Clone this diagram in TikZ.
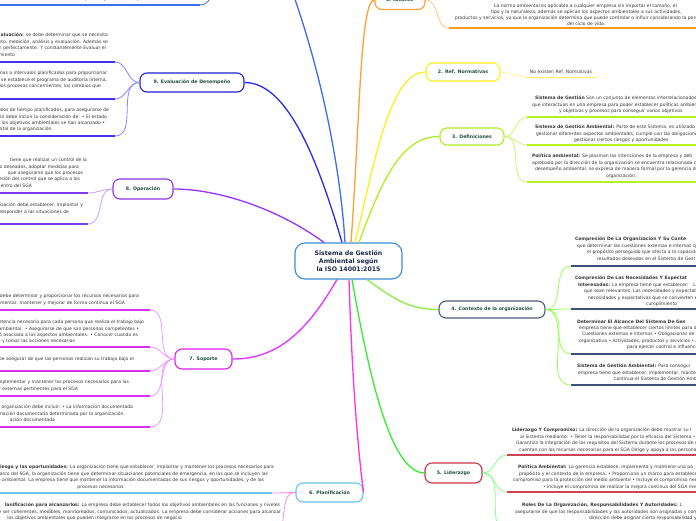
\documentclass[tikz,border=0pt]{standalone}
\usepackage{fontspec}
\setmainfont{DejaVu Sans}
\newcommand\mmbody{\fontsize{4.55}{6.4}\selectfont}
\newcommand\mmdense{\fontsize{4.55}{5.8}\selectfont}
\newcommand\mmlbl{\fontsize{4.7}{6}\selectfont\bfseries}
\newcommand\mmmain{\fontsize{6.2}{7.6}\selectfont\bfseries}
\newcommand\rpad[1]{\hspace*{#1}\hbox{}}
\definecolor{txt}{HTML}{383838}
\definecolor{lbl}{HTML}{1F4E3D}
\definecolor{cMain}{HTML}{3A8FD5}
\definecolor{cMainTxt}{HTML}{1B2A47}
\definecolor{oN}{HTML}{FFA030}\definecolor{oU}{HTML}{FF9A1A}\definecolor{oC}{HTML}{FFC680}
\definecolor{yN}{HTML}{FFEE22}\definecolor{yU}{HTML}{FFEE55}\definecolor{yC}{HTML}{FFF39A}
\definecolor{gN}{HTML}{B0EE22}\definecolor{gU}{HTML}{B6F01E}\definecolor{gC}{HTML}{CCF577}
\definecolor{nN}{HTML}{4B5B7C}\definecolor{nU}{HTML}{3F5078}\definecolor{nC}{HTML}{99FF55}\definecolor{nM}{HTML}{8AEE4A}
\definecolor{rN}{HTML}{CC3344}\definecolor{rU}{HTML}{CC4455}\definecolor{rC}{HTML}{88FF88}\definecolor{rM}{HTML}{33EE33}
\definecolor{sN}{HTML}{66C3F0}\definecolor{sU}{HTML}{6CC3EF}\definecolor{sC}{HTML}{FF88EE}\definecolor{sM}{HTML}{FF33DD}
\definecolor{mN}{HTML}{DD22EE}\definecolor{mU}{HTML}{D633F0}\definecolor{mC}{HTML}{EE99FF}\definecolor{mM}{HTML}{DD33FF}
\definecolor{vN}{HTML}{8833EE}\definecolor{vU}{HTML}{7A3DF5}\definecolor{vC}{HTML}{C9A0FF}\definecolor{vM}{HTML}{9933FF}
\definecolor{bN}{HTML}{2020DD}\definecolor{bU}{HTML}{4433EE}\definecolor{bC}{HTML}{8888FF}\definecolor{bM}{HTML}{2A2AE8}
\definecolor{tN}{HTML}{3D6EF0}
\begin{document}
\begin{tikzpicture}[x=1pt,y=-1pt,
  branch/.style={draw, rounded corners=7pt, fill=white, line width=1.1pt, font=\mmlbl, text=lbl, align=center, inner sep=0pt},
  mainbox/.style={draw=cMain, rounded corners=10pt, fill=white, line width=1.1pt, font=\mmmain, text=cMainTxt, align=center, minimum width=107pt, minimum height=36pt, inner sep=0pt},
  body/.style={font=\mmbody, text=txt, inner sep=0pt, outer sep=0pt},
  rcut/.style={body, anchor=north west, align=left},
  lcut/.style={body, anchor=north east, align=right},
  con/.style={line width=1.3pt},
  sub/.style={line width=0.8pt},
  uline/.style={line width=1.8pt}]
\useasboundingbox (0,0) rectangle (696,520);
\clip (0,0) rectangle (696,520);
\fill[white] (0,0) rectangle (696,520);

% ---------- main and branch nodes ----------
\node[mainbox] (c) at (348.5,261) {Sistema de Gestión\\Ambiental según\\la ISO 14001:2015};
\node[branch, draw=oN, minimum width=50pt, minimum height=19pt] (b1) at (400,0) {1. Alcance};
\node[branch, draw=yN, minimum width=74pt, minimum height=18pt] (b2) at (463,72) {2. Ref. Normativas};
\node[branch, draw=gN, minimum width=64pt, minimum height=17pt] (b3) at (472,136.5) {3. Definiciones};
\node[branch, draw=nN, minimum width=106pt, minimum height=17pt] (b4) at (492,309.5) {4. Contexto de la organización};
\node[branch, draw=rN, minimum width=57pt, minimum height=20pt] (b5) at (453.5,473) {5. Liderazgo};
\node[branch, draw=sN, minimum width=67pt, minimum height=19pt] (b6) at (329.5,492.5) {6. Planificación};
\node[branch, draw=mN, minimum width=57pt, minimum height=20pt] (b7) at (203.5,359) {7. Soporte};
\node[branch, draw=vN, minimum width=60pt, minimum height=20pt] (b8) at (143,189) {8. Operación};
\node[branch, draw=bN, minimum width=104pt, minimum height=19pt] (b9) at (192,82.5) {9. Evaluación de Desempeño};
\coordinate (b10) at (288,-20);
\coordinate (n10) at (225,-14);

% ---------- main connectors ----------
\draw[con, tN] ([xshift=-3.5pt]c.north) .. controls (340,160) and (318,60) .. (b10);
\draw[con, bM] ([xshift=-6.5pt]c.north) .. controls (315,150) and (285,82.5) .. (b9.east);
\draw[con, vM] ([xshift=-24.5pt]c.north) .. controls (280,210) and (220,189) .. (b8.east);
\draw[con, oN] ([xshift=2.5pt]c.north) .. controls (360,120) and (360,0) .. (b1.west);
\draw[con, yN] ([xshift=6.5pt]c.north) .. controls (375,160) and (390,72) .. (b2.west);
\draw[con, gN] ([xshift=10.5pt]c.north) .. controls (385,170) and (405,136.5) .. (b3.west);
\draw[con, nM] ([xshift=18.5pt]c.south) .. controls (395,300) and (410,309.5) .. (b4.west);
\draw[con, rM] ([xshift=3.5pt]c.south) .. controls (368,370) and (390,473) .. (b5.west);
\draw[con, sM] ([xshift=0.5pt]c.south) .. controls (352,380) and (358,450) .. (b6.east);
\draw[con, mM] ([xshift=-11.5pt]c.south) .. controls (305,335) and (275,359) .. (b7.east);

% ---------- underline anchor points ----------
\coordinate (u1) at (449,28);
\coordinate (u2) at (526,77);
\coordinate (u3a) at (527,117); \coordinate (u3b) at (527,145); \coordinate (u3c) at (527,182);
\coordinate (u4a) at (571,266); \coordinate (u4b) at (571,309); \coordinate (u4c) at (571,354); \coordinate (u4d) at (571,385);
\coordinate (u5a) at (507,455); \coordinate (u5b) at (507,492); \coordinate (u5c) at (508,532);
\coordinate (u6a) at (272,493); \coordinate (u6b) at (272,534);
\coordinate (u7a) at (150,310); \coordinate (u7b) at (150,347); \coordinate (u7c) at (150,371); \coordinate (u7d) at (150,396); \coordinate (u7e) at (150,427);
\coordinate (u8a) at (88,193); \coordinate (u8b) at (88,224);
\coordinate (u9a) at (115,62); \coordinate (u9b) at (115,99); \coordinate (u9c) at (115,136);
\coordinate (u10) at (200,5);

% ---------- child connectors ----------
\draw[sub, oC] (b1.east) to[out=0,in=180] (u1);
\draw[sub, yC] (b2.east) to[out=0,in=180] (u2);
\foreach \u in {u3a,u3b,u3c} \draw[sub, gC] (b3.east) to[out=0,in=180] (\u);
\foreach \u in {u4a,u4b,u4c,u4d} \draw[sub, nC] (b4.east) to[out=0,in=180] (\u);
\foreach \u in {u5a,u5b,u5c} \draw[sub, rC] (b5.east) to[out=0,in=180] (\u);
\foreach \u in {u6a,u6b} \draw[sub, sC] (b6.west) to[out=180,in=0] (\u);
\foreach \u in {u7a,u7b,u7c,u7d,u7e} \draw[sub, mC] (b7.west) to[out=180,in=0] (\u);
\foreach \u in {u8a,u8b} \draw[sub, vC] (b8.west) to[out=180,in=0] (\u);
\foreach \u in {u9a,u9b,u9c} \draw[sub, bC] (b9.west) to[out=180,in=0] (\u);
\draw[sub, tN] (n10) to[out=180,in=0] (u10);

% ---------- underlines ----------
\draw[line width=1.5pt, oU] (u1) -- (700,28);
\draw[line width=0.8pt, yU] (u2) -- (596,77);
\foreach \u in {u3a,u3b,u3c} \draw[uline, gU] (\u) -- ++(180,0);
\foreach \u in {u4a,u4b,u4c,u4d} \draw[uline, nU] (\u) -- ++(140,0);
\foreach \u in {u5a,u5b} \draw[uline, rU] (\u) -- ++(200,0);
\draw[uline, sU] (u6a) -- ++(-280,0);
\foreach \u in {u7a,u7b,u7c,u7d,u7e} \draw[uline, mU] (\u) -- ++(-160,0);
\foreach \u in {u8a,u8b} \draw[uline, vU] (\u) -- ++(-100,0);
\foreach \u in {u9a,u9b,u9c} \draw[uline, bU] (\u) -- ++(-120,0);
\draw[uline, tN] (u10) -- ++(-210,0);

% ---------- texts: right side ----------
\node[rcut, font=\mmdense] (t1) at (455,4.2) {\rpad{39pt}La norma ambiental es aplicable a cualquier empresa sin importar el tamaño, el\\
\rpad{36pt}tipo y la naturaleza, además se aplican los aspectos ambientales a sus actividades,\\
productos y servicios, ya que la organización determina que puede controlar o influir considerando la pers\\
\rpad{112pt}del ciclo de vida.};
\node[body] (t2) at (561,72) {No existen Ref. Normativas};
\node[rcut] (t3a) at (532,96.2) {\rpad{3pt}\textbf{Sistema de Gestión} Son un conjunto de elementos interrelacionados\\
que interactúan en una empresa para poder establecer políticas ambient\\
\rpad{27pt}y objetivos y procesos para conseguir varios objetivos};
\node[rcut] (t3b) at (535,125.2) {\textbf{Sistema de Gestión Ambiental:} Parte de este Sistema, es utilizado p\\
\rpad{1pt}gestionar diferentes aspectos ambientales, cumple con las obligaciones\\
\rpad{39pt}gestionar ciertos riesgos y oportunidades};
\node[rcut] (t3c) at (532,154.2) {\textbf{Política ambiental:} Se plasman las intenciones de la empresa y deb\\
aprobada por la dirección de la organización se encuentra relacionada c\\
\rpad{3pt}desempeño ambiental, se expresa de manera formal por la gerencia de\\
\rpad{74pt}organización.};
\node[rcut] (t4a) at (575,237.2) {\textbf{Compresión De La Organización Y Su Conte}\\
\rpad{2pt}que determinar las cuestiones externas e internas q\\
\rpad{12pt}el propósito perseguido que afecta a la capacidad\\
\rpad{22pt}resultados deseados en el Sistema de Gest};
\node[rcut] (t4b) at (575,276.2) {\textbf{Compresión De Las Necesidades Y Expectat}\\
\rpad{3pt}\textbf{Interesadas:} La empresa tiene que establecer: \ \ L\\
\rpad{9pt}que sean relevantes, Las necesidades y expectati\\
\rpad{13pt}necesidades y expectativas que se convierten e\\
\rpad{71pt}cumplimiento};
\node[rcut] (t4c) at (577,319.7) {\textbf{Determinar El Alcance Del Sistema De Ges}\\
\rpad{2pt}empresa tiene que establecer ciertos límites para de\\
\rpad{5pt}Cuestiones externas e internas • Obligaciones de c\\
\rpad{2pt}organizativa • Actividades, productos y servicios • A\\
\rpad{50pt}para ejercer control e influenci};
\node[rcut] (t4d) at (577,364.2) {\textbf{Sistema de Gestión Ambiental:} Para consegui\\
\rpad{1pt}empresa tiene que establecer, implementar, manten\\
\rpad{37pt}continua el Sistema de Gestión Amb};
\node[rcut] (t5a) at (512,428.2) {\textbf{Liderazgo Y Compromiso:} La dirección de la organización debe mostrar su l\\
\rpad{8pt}al Sistema mediante: • Tener la responsabilidad por la eficacia del Sistema •\\
\rpad{4pt}Garantiza la integración de los requisitos del Sistema durante los procesos de n\\
\rpad{7pt}cuentan con los recursos necesarios para el SGA Dirige y apoya a las personas};
\node[rcut] (t5b) at (513,465.2) {\rpad{5pt}\textbf{Política Ambiental:} La gerencia establece, implementa y mantiene una po\\
\rpad{6pt}propósito y el contexto de la empresa, • Proporciona un marco para establece\\
compromiso para la protección del medio ambiente • Incluye el compromiso nec\\
\rpad{30pt}• Incluye el compromiso de realizar la mejora continua del SGA mej};
\node[rcut] (t5c) at (515,503.2) {\rpad{7pt}\textbf{Roles De La Organización, Responsabilidades Y Autoridades:} L\\
asegurarse de que las responsabilidades y las autoridades son asignadas y com\\
\rpad{74pt}dirección debe asignar cierta responsabilidad y};

% ---------- texts: left side ----------
\node[lcut] (t6a) at (274,465.2) {\textbf{iesgo y las oportunidades:} La organización tiene que establecer, implantar y mantener los procesos necesarios para\\
l marco del SGA, la organización tiene que determinar situaciones potenciales de emergencia, en las que se incluyen las\rpad{6pt}\\
cto ambiental. La empresa tiene que mantener la información documentadas de sus riesgos y oportunidades, y de los\rpad{10pt}\\
procesos necesarios.\rpad{149pt}};
\node[lcut] (t6b) at (281,503.2) {\textbf{lanificación para alcanzarlos:} La empresa debe establecer todos los objetivos ambientales en las funciones y niveles\rpad{1pt}\\
e ser coherentes, medibles, monitoreados, comunicados, actualizados. La empresa debe considerar acciones para alcanzar\\
los objetivos ambientales que pueden integrarse en los procesos de negocio\rpad{99pt}};
\node[lcut] (t7a) at (139,294.2) {debe determinar y proporcionar los recursos necesarios para\\
ementar, mantener y mejorar de forma continua el SGA\rpad{14pt}};
\node[lcut] (t7b) at (144,320.2) {etencia necesaria para cada persona que realiza el trabajo bajo\\
ambiental. • Asegurarse de que son personas competentes •\rpad{5pt}\\
ó asociada a los aspectos ambientales. • Conocer cuando es\rpad{6pt}\\
e y tomar las acciones necesarias\rpad{69pt}};
\node[lcut] (t7c) at (134,357.2) {be asegurar de que las personas realizan su trabajo bajo el};
\node[lcut] (t7d) at (129,380.2) {implementar y mantener los procesos necesarios para las\\
y externas pertinentes para el SGA\rpad{51pt}};
\node[lcut] (t7e) at (133,405.2) {a organización debe incluir: • La información documentada\\
mación documentada determinada por la organización.\rpad{8pt}\\
ación documentada\rpad{78pt}};
\node[lcut] (t8a) at (87,158.2) {tiene que realizar un control de la\\
o deseados, adoptar medidas para\rpad{8pt}\\
que asegurarse que los procesos\rpad{4pt}\\
rsión del control que se aplica a los\rpad{7pt}\\
entro del SGA\rpad{55pt}};
\node[lcut] (t8b) at (83,203.2) {nización debe establecer, implantar y\\
responder a las situaciones de\rpad{14pt}};
\node[lcut] (t9a) at (108,33.2) {\textbf{aluación:} se debe determinar que se necesita\\
nto, medición, análisis y evaluación. Además se\\
n perfectamente. Y constantemente Evaluar el\rpad{2pt}\\
limiento\rpad{93pt}};
\node[lcut] (t9b) at (107,71.2) {rmas a intervalos planificados para proporcionar\\
• se establece el programa de auditoría interna,\\
e los procesos concernientes, los cambios que\rpad{6pt}};
\node[lcut] (t9c) at (109,108.2) {valos de tiempo planificados, para asegurarse de\\
ión debe incluir la consideración de: • El estado\rpad{2pt}\\
e los objetivos ambientales se han alcanzado •\rpad{4pt}\\
ntal de la organización.\rpad{56pt}};
\node[lcut] (t10) at (173,-3) {acciones necesarias para mejorar el desempeño ambiental};
\end{tikzpicture}
\end{document}
